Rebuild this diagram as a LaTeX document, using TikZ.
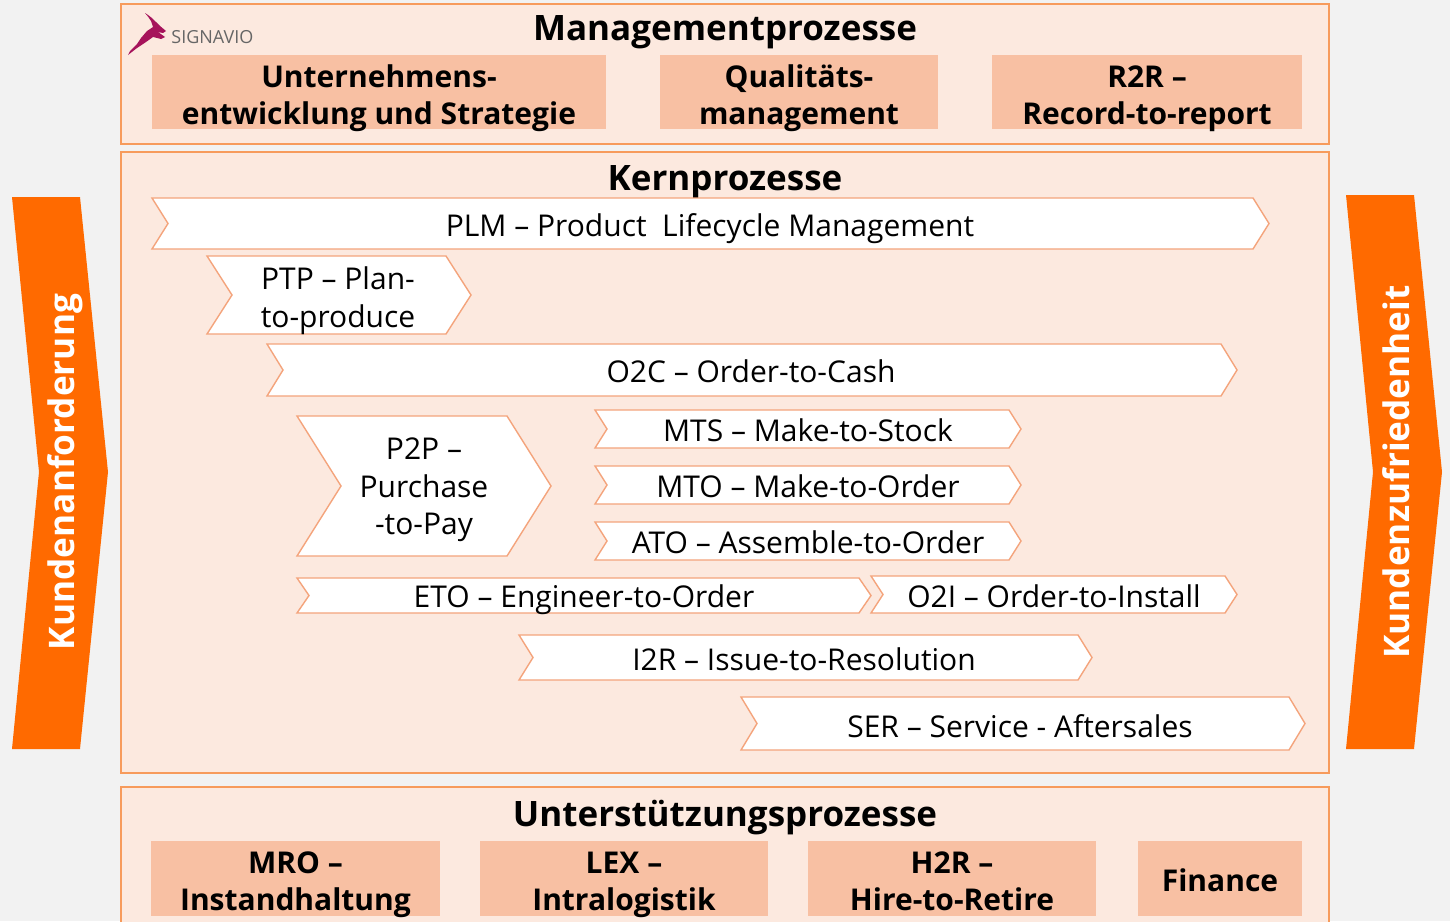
\documentclass[tikz,border=0pt]{standalone}
\usepackage{fontspec}
\setmainfont{Open Sans}
\definecolor{pagegray}{HTML}{F2F2F2}
\definecolor{panelfill}{HTML}{FCE9DF}
\definecolor{panelline}{HTML}{F79B5C}
\definecolor{boxfill}{HTML}{F8C0A3}
\definecolor{chevline}{HTML}{F4A47C}
\definecolor{sidefill}{HTML}{FF6A00}
\definecolor{logored}{HTML}{A6135B}
\tikzset{%
    panel/.style={%
        draw=panelline,
        fill=panelfill,
        line width=1pt
    },
    panel title/.style={%
        font=\fontsize{17.5}{20}\selectfont\bfseries,
        inner sep=0pt,
        anchor=base
    },
    process box/.style={%
        fill=boxfill
    },
    box text/.style={%
        font=\fontsize{15}{18.3}\selectfont\bfseries,
        align=center,
        inner sep=0pt
    },
    chevron line/.style={%
        draw=chevline,
        fill=white,
        line width=0.7pt
    },
    chevron text/.style={%
        font=\fontsize{15}{18.75}\selectfont,
        align=center,
        inner sep=0pt
    },
    side arrow/.style={%
        fill=sidefill
    },
    side text/.style={%
        font=\fontsize{17.6}{20}\selectfont\bfseries,
        text=white,
        rotate=90,
        inner sep=0pt,
        anchor=base
    },
}
% name, left x, tip x, top y, bottom y, depth
\newcommand{\chevron}[6]{%
    \draw[chevron line] (#2,#4) -- ({#3-#6},#4) -- (#3,{(#4+#5)/2})
        -- ({#3-#6},#5) -- (#2,#5) -- ({#2+#6},{(#4+#5)/2}) -- cycle;
    \coordinate (#1) at ({(#2+#3)/2},{(#4+#5)/2});
}
\begin{document}
\begin{tikzpicture}[x=0.5pt, y=-0.5pt]

    \useasboundingbox (0,0) rectangle (1450,921);
    \fill[pagegray] (0,0) rectangle (1450,921);

    % panels
    \draw[panel] (121,4) rectangle (1329,144);
    \draw[panel] (121,152) rectangle (1329,773);
    \draw[panel] (121,787) rectangle (1329,940);

    \node[panel title] (management) at (725,40) {Managementprozesse};
    \node[panel title] (kern) at (725,190) {Kernprozesse};
    \node[panel title] (support) at (725,826) {Unterstützungsprozesse};

    % logo
    \fill[logored] (145,13) .. controls (150,16) and (153,19) .. (156,22) -- (160,26)
        -- (166,31) -- (163,33) -- (158,32) -- (165,37) -- (161,39) -- (153,37)
        -- (146,42) -- (137,48) -- (128,55) -- (130,51) -- (137,44) -- (141,38)
        -- (147,31) -- (153,27) -- (151,21) .. controls (149,18) and (147,15) .. (145,13) -- cycle;
    \node[font=\fontsize{9}{11}\selectfont, text=black!60, inner sep=0pt, anchor=base west] (signavio) at (171,43) {SIGNAVIO};

    % management boxes
    \fill[process box] (152,55) rectangle (606,129);
    \fill[process box] (660,55) rectangle (938,129);
    \fill[process box] (992,55) rectangle (1302,129);
    \node[box text] (strategie) at (379,98.2) {Unternehmens-\\entwicklung und Strategie};
    \node[box text] (quali) at (799,98.2) {Qualitäts-\\management};
    \node[box text] (r2r) at (1147,98.9) {R2R –\\Record-to-report};

    % support boxes
    \fill[process box] (151,841) rectangle (440,916);
    \fill[process box] (480,841) rectangle (768,916);
    \fill[process box] (808,841) rectangle (1096,916);
    \fill[process box] (1138,841) rectangle (1302,916);
    \node[box text] (mro) at (295.5,884.6) {MRO –\\Instandhaltung};
    \node[box text] (lex) at (624,884.6) {LEX –\\Intralogistik};
    \node[box text] (h2r) at (952,881) {H2R –\\Hire-to-Retire};
    \node[box text, anchor=base] (finance) at (1220,891) {Finance};

    % core chevrons
    \chevron{plm}{152}{1269}{198}{249}{16}
    \chevron{ptp}{207}{471}{256}{334}{25}
    \chevron{o2c}{267}{1237}{344}{396}{16}
    \chevron{p2p}{297}{551}{416}{556}{44}
    \chevron{mts}{595}{1021}{410}{448}{12}
    \chevron{mto}{595}{1021}{466}{504}{12}
    \chevron{ato}{595}{1021}{522}{560}{12}
    \chevron{eto}{297}{871}{578}{613}{12}
    \chevron{o2i}{871}{1237}{576}{613}{12}
    \chevron{i2r}{519}{1092}{635}{680}{14}
    \chevron{ser}{741}{1305}{697}{750}{16}

    \node[chevron text, anchor=base] (plm text) at (710,236) {PLM – Product\ \ Lifecycle Management};
    \node[chevron text] (ptp text) at (338,300.7) {PTP – Plan-\\to-produce};
    \node[chevron text, anchor=base] (o2c text) at (751,382) {O2C – Order-to-Cash};
    \node[chevron text] (p2p text) at (424,489.9) {P2P –\\Purchase\\-to-Pay};
    \node[chevron text, anchor=base] (mts text) at (808,441) {MTS – Make-to-Stock};
    \node[chevron text, anchor=base] (mto text) at (808,497) {MTO – Make-to-Order};
    \node[chevron text, anchor=base] (ato text) at (808,553) {ATO – Assemble-to-Order};
    \node[chevron text, anchor=base] (eto text) at (584,607) {ETO – Engineer-to-Order};
    \node[chevron text, anchor=base] (o2i text) at (1054,607) {O2I – Order-to-Install};
    \node[chevron text, anchor=base] (i2r text) at (804,670) {I2R – Issue-to-Resolution};
    \node[chevron text, anchor=base] (ser text) at (1020,737) {SER – Service - Aftersales};

    % side arrows
    \fill[side arrow] (12,197) -- (80,197) -- (108,472) -- (80,749) -- (12,749) -- (39,472) -- cycle;
    \fill[side arrow] (1346,195) -- (1414,195) -- (1442,472) -- (1414,749) -- (1346,749) -- (1373,472) -- cycle;
    \node[side text] (anforderung) at (74,472) {Kundenanforderung};
    \node[side text] (zufriedenheit) at (1409,472) {Kundenzufriedenheit};

\end{tikzpicture}
\end{document}
